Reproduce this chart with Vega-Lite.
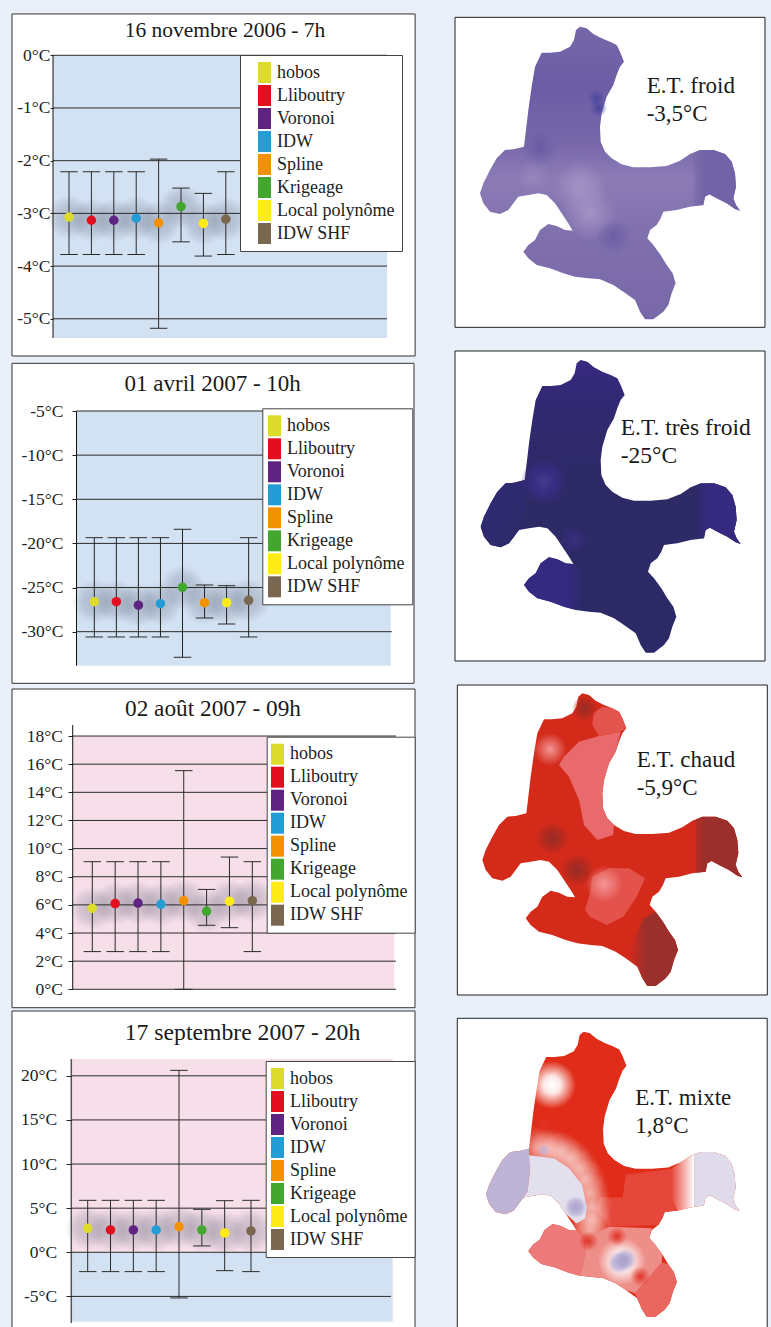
{
"$schema":"https://vega.github.io/schema/vega-lite/v6.json",
"background":"#E9F0FA","padding":0,"spacing":0,
"config":{
 "view":{"stroke":null},
 "font":"Liberation Serif",
 "point":{"opacity":1,"filled":true},
 "tick":{"opacity":1},
 "axisX":{"disable":true},
 "title":{"font":"Liberation Serif","fontSize":21.5,"fontWeight":"normal","color":"#1a1a1a","anchor":"middle","frame":"group","baseline":"alphabetic"},
 "axisY":{"domain":false,"grid":false,"ticks":true,"tickColor":"#222","tickSize":4,"labelFont":"Liberation Serif","labelFontSize":17.5,"labelColor":"#222","labelPadding":0,"labelBound":false,"labelFlush":false,"labelExpr":"datum.value+'°C'"},
 "legend":{"fillColor":"#fff","strokeColor":"#444","padding":7,"rowPadding":2,"symbolSize":441,"symbolStrokeWidth":0,"symbolType":"M-0.62,-1H0.62V1H-0.62Z","labelFont":"Liberation Serif","labelFontSize":18,"labelOffset":2,"labelColor":"#222"}
},
"datasets":{
 "outline":[{"type":"Feature","properties":{},"geometry":{"type":"Polygon","coordinates":[[[390,50],[410,55],[430,72],[455,85],[480,95],[500,105],[510,125],[522,155],[510,170],[500,195],[490,225],[470,260],[455,310],[450,350],[452,395],[465,425],[485,445],[515,463],[550,472],[600,472],[650,468],[690,452],[720,432],[750,420],[790,420],[825,432],[845,455],[855,490],[858,530],[850,565],[858,585],[870,602],[855,597],[830,580],[800,565],[778,553],[765,560],[760,585],[720,590],[680,600],[640,605],[632,625],[620,645],[600,660],[592,685],[610,705],[632,735],[650,765],[668,790],[677,820],[665,850],[655,885],[640,905],[610,928],[585,928],[570,905],[555,870],[520,845],[490,825],[450,808],[415,805],[375,800],[340,790],[300,775],[260,765],[235,745],[220,725],[235,705],[255,690],[270,660],[295,642],[320,648],[345,660],[368,662],[355,640],[335,610],[315,580],[290,555],[265,550],[235,555],[205,560],[190,580],[175,600],[150,612],[120,605],[100,580],[90,550],[100,520],[120,480],[140,445],[165,420],[190,418],[222,410],[228,360],[235,300],[245,230],[255,170],[275,128],[300,128],[330,125],[360,110],[372,90],[378,60],[390,50]]]}}],
 "leftLobe":[{"type":"Feature","properties":{},"geometry":{"type":"Polygon","coordinates":[[[205,560],[190,580],[175,600],[150,612],[120,605],[100,580],[90,550],[100,520],[120,480],[140,445],[165,420],[190,418],[222,410],[226,470],[218,540],[205,560]]]}}],
 "rightLobe":[{"type":"Feature","properties":{},"geometry":{"type":"Polygon","coordinates":[[[730,428],[750,420],[790,420],[825,432],[845,455],[855,490],[858,530],[850,565],[858,585],[870,602],[855,597],[830,580],[800,565],[778,553],[765,560],[760,585],[730,589],[730,428]]]}}],
 "bottomLeft":[{"type":"Feature","properties":{},"geometry":{"type":"Polygon","coordinates":[[[220,725],[235,705],[255,690],[270,660],[295,642],[320,648],[345,660],[368,662],[385,680],[400,720],[385,780],[375,800],[340,790],[300,775],[260,765],[235,745],[220,725]]]}}],
 "bottomRight":[{"type":"Feature","properties":{},"geometry":{"type":"Polygon","coordinates":[[[630,760],[650,765],[668,790],[677,820],[665,850],[655,885],[640,905],[610,928],[585,928],[570,905],[555,870],[548,855],[630,760]]]}}]
},
"hconcat":[
 {"spacing":0,"resolve":{"scale":{"color":"independent"}},"vconcat":[
  {"width":440,"height":360,"title":{"text":"16 novembre 2006 - 7h","offset":-41.7,"dx":5},
   "layer":[
    {"data":{"values":[{}]},"mark":{"type":"rect","fill":"#fff","stroke":"#333","strokeWidth":1},"encoding":{"x":{"datum":-1.545,"type":"quantitative","scale":{"domain":[-2.08,17.56],"nice":false,"zero":false}},"x2":{"datum":16.45},"y":{"datum":0.784,"type":"quantitative","title":null,"scale":{"domain":[-5.782,1.049],"nice":false,"zero":false},"axis":{"values":[0,-1,-2,-3,-4,-5],"tickCount":20,"offset":-53,"zindex":1,"tickSize":3,"labelOverlap":false}},"y2":{"datum":-5.706}}},
    {"data":{"values":[{}]},"mark":{"type":"rect","fill":"#D3E2F3"},"encoding":{"x":{"datum":0.286,"type":"quantitative"},"x2":{"datum":15.196},"y":{"datum":0,"type":"quantitative","title":null},"y2":{"datum":-5.364}}},
    {"data":{"values":[{"pos":1,"temp":-3.07,"low":-3.78,"high":-2.21,"method":"hobos"},{"pos":2,"temp":-3.13,"low":-3.78,"high":-2.21,"method":"Lliboutry"},{"pos":3,"temp":-3.13,"low":-3.78,"high":-2.21,"method":"Voronoi"},{"pos":4,"temp":-3.09,"low":-3.78,"high":-2.21,"method":"IDW"},{"pos":5,"temp":-3.18,"low":-5.18,"high":-1.97,"method":"Spline"},{"pos":6,"temp":-2.87,"low":-3.54,"high":-2.52,"method":"Krigeage"},{"pos":7,"temp":-3.19,"low":-3.81,"high":-2.62,"method":"Local polynôme"},{"pos":8,"temp":-3.11,"low":-3.78,"high":-2.21,"method":"IDW SHF"}]},
     "layer":[
      {"mark":{"type":"point","size":2000,"fill":{"gradient":"radial","x1":0.5,"y1":0.5,"r1":0,"x2":0.5,"y2":0.5,"r2":0.5,"stops":[{"offset":0,"color":"rgba(85,90,110,0.3)"},{"offset":0.55,"color":"rgba(85,90,110,0.2)"},{"offset":1,"color":"rgba(85,90,110,0)"}]}},"encoding":{"x":{"field":"pos","type":"quantitative"},"y":{"field":"temp","type":"quantitative","title":null}}},
      {"data":{"values":[{"t":0},{"t":-1},{"t":-2},{"t":-3},{"t":-4},{"t":-5}]},"mark":{"type":"rule","color":"#2a2a2a","strokeWidth":1},"encoding":{"x":{"datum":0.286,"type":"quantitative"},"x2":{"datum":15.196},"y":{"field":"t","type":"quantitative","title":null}}},
      {"data":{"values":[{}]},"mark":{"type":"rule","color":"#111","strokeWidth":1},"encoding":{"x":{"datum":0.286,"type":"quantitative"},"y":{"datum":0,"type":"quantitative","title":null},"y2":{"datum":-5.364}}},
      {"mark":{"type":"rule","color":"#2a2a2a","strokeWidth":1},"encoding":{"x":{"field":"pos","type":"quantitative"},"y":{"field":"low","type":"quantitative","title":null},"y2":{"field":"high"}}},
      {"mark":{"type":"tick","orient":"horizontal","size":17.5,"thickness":1,"color":"#2a2a2a"},"encoding":{"x":{"field":"pos","type":"quantitative"},"y":{"field":"low","type":"quantitative","title":null}}},
      {"mark":{"type":"tick","orient":"horizontal","size":17.5,"thickness":1,"color":"#2a2a2a"},"encoding":{"x":{"field":"pos","type":"quantitative"},"y":{"field":"high","type":"quantitative","title":null}}},
      {"mark":{"type":"point","size":90},"encoding":{"x":{"field":"pos","type":"quantitative"},"y":{"field":"temp","type":"quantitative","title":null},"color":{"field":"method","type":"nominal","scale":{"domain":["hobos","Lliboutry","Voronoi","IDW","Spline","Krigeage","Local polynôme","IDW SHF"],"range":["#DDDB2B","#E30F1F","#5F2382","#249DD6","#F39200","#43A62F","#FFEC17","#7A6750"]},"legend":{"title":null,"orient":"none","legendX":240,"legendY":55,"symbolOffset":7}}}}
     ]}
   ]},
  {"width":440,"height":326,"title":{"text":"01 avril 2007 - 10h","offset":-35.7,"dx":-7.3,"fontSize":23},
   "layer":[
    {"data":{"values":[{}]},"mark":{"type":"rect","fill":"#fff","stroke":"#333","strokeWidth":1},"encoding":{"x":{"datum":-2.732,"type":"quantitative","scale":{"domain":[-3.277,16.678],"nice":false,"zero":false}},"x2":{"datum":15.499},"y":{"datum":0.404,"type":"quantitative","title":null,"scale":{"domain":[-36.154,0.778],"nice":false,"zero":false},"axis":{"values":[-5,-10,-15,-20,-25,-30],"tickCount":20,"offset":-76.5,"zindex":1,"tickSize":4.5,"labelPadding":9,"labelOverlap":false}},"y2":{"datum":-35.85}}},
    {"data":{"values":[{}]},"mark":{"type":"rect","fill":"#D3E2F3"},"encoding":{"x":{"datum":0.193,"type":"quantitative"},"x2":{"datum":14.442},"y":{"datum":-5,"type":"quantitative","title":null},"y2":{"datum":-33.854}}},
    {"data":{"values":[{"pos":1,"temp":-26.6,"low":-30.6,"high":-19.35,"method":"hobos"},{"pos":2,"temp":-26.6,"low":-30.6,"high":-19.35,"method":"Lliboutry"},{"pos":3,"temp":-27.0,"low":-30.6,"high":-19.35,"method":"Voronoi"},{"pos":4,"temp":-26.83,"low":-30.6,"high":-19.35,"method":"IDW"},{"pos":5,"temp":-24.97,"low":-32.9,"high":-18.4,"method":"Krigeage"},{"pos":6,"temp":-26.71,"low":-28.45,"high":-24.71,"method":"Spline"},{"pos":7,"temp":-26.71,"low":-29.13,"high":-24.79,"method":"Local polynôme"},{"pos":8,"temp":-26.45,"low":-30.6,"high":-19.35,"method":"IDW SHF"}]},
     "layer":[
      {"mark":{"type":"point","size":2000,"fill":{"gradient":"radial","x1":0.5,"y1":0.5,"r1":0,"x2":0.5,"y2":0.5,"r2":0.5,"stops":[{"offset":0,"color":"rgba(85,90,110,0.3)"},{"offset":0.55,"color":"rgba(85,90,110,0.2)"},{"offset":1,"color":"rgba(85,90,110,0)"}]}},"encoding":{"x":{"field":"pos","type":"quantitative"},"y":{"field":"temp","type":"quantitative","title":null}}},
      {"data":{"values":[{"t":-5},{"t":-10},{"t":-15},{"t":-20},{"t":-25},{"t":-30}]},"mark":{"type":"rule","color":"#2a2a2a","strokeWidth":1},"encoding":{"x":{"datum":0.193,"type":"quantitative"},"x2":{"datum":14.488},"y":{"field":"t","type":"quantitative","title":null}}},
      {"data":{"values":[{}]},"mark":{"type":"rule","color":"#111","strokeWidth":1},"encoding":{"x":{"datum":0.193,"type":"quantitative"},"y":{"datum":-5,"type":"quantitative","title":null},"y2":{"datum":-33.854}}},
      {"mark":{"type":"rule","color":"#222","strokeWidth":1},"encoding":{"x":{"field":"pos","type":"quantitative"},"y":{"field":"low","type":"quantitative","title":null},"y2":{"field":"high"}}},
      {"mark":{"type":"tick","orient":"horizontal","size":17.5,"thickness":1,"color":"#2a2a2a"},"encoding":{"x":{"field":"pos","type":"quantitative"},"y":{"field":"low","type":"quantitative","title":null}}},
      {"mark":{"type":"tick","orient":"horizontal","size":17.5,"thickness":1,"color":"#2a2a2a"},"encoding":{"x":{"field":"pos","type":"quantitative"},"y":{"field":"high","type":"quantitative","title":null}}},
      {"mark":{"type":"point","size":90},"encoding":{"x":{"field":"pos","type":"quantitative"},"y":{"field":"temp","type":"quantitative","title":null},"color":{"field":"method","type":"nominal","scale":{"domain":["hobos","Lliboutry","Voronoi","IDW","Spline","Krigeage","Local polynôme","IDW SHF"],"range":["#DDDB2B","#E30F1F","#5F2382","#249DD6","#F39200","#43A62F","#FFEC17","#7A6750"]},"legend":{"title":null,"orient":"none","legendX":262.3,"legendY":48.3,"symbolOffset":-5.3}}}}
     ]}
   ]},
  {"width":440,"height":323,"title":{"text":"02 août 2007 - 09h","offset":-35.7,"dx":-7,"fontSize":23.3},
   "layer":[
    {"data":{"values":[{}]},"mark":{"type":"rect","fill":"#fff","stroke":"#333","strokeWidth":1},"encoding":{"x":{"datum":-2.513,"type":"quantitative","scale":{"domain":[-3.038,16.21],"nice":false,"zero":false}},"x2":{"datum":15.117},"y":{"datum":21.343,"type":"quantitative","title":null,"scale":{"domain":[-1.4,21.557],"nice":false,"zero":false},"axis":{"values":[18,16,14,12,10,8,6,4,2,0],"tickCount":20,"offset":-72.7,"tickSize":4.7,"labelPadding":5.7,"zindex":1,"labelOverlap":false}},"y2":{"datum":-1.308}}},
    {"data":{"values":[{}]},"mark":{"type":"rect","fill":"#F7DFEA"},"encoding":{"x":{"datum":0.143,"type":"quantitative"},"x2":{"datum":14.211},"y":{"datum":18,"type":"quantitative","title":null},"y2":{"datum":0}}},
    {"data":{"values":[{"pos":1,"temp":5.76,"low":2.68,"high":9.07,"method":"hobos"},{"pos":2,"temp":6.09,"low":2.68,"high":9.07,"method":"Lliboutry"},{"pos":3,"temp":6.13,"low":2.68,"high":9.07,"method":"Voronoi"},{"pos":4,"temp":6.04,"low":2.68,"high":9.07,"method":"IDW"},{"pos":5,"temp":6.3,"low":0,"high":15.54,"method":"Spline"},{"pos":6,"temp":5.54,"low":4.55,"high":7.1,"method":"Krigeage"},{"pos":7,"temp":6.25,"low":4.38,"high":9.4,"method":"Local polynôme"},{"pos":8,"temp":6.3,"low":2.68,"high":9.07,"method":"IDW SHF"}]},
     "layer":[
      {"mark":{"type":"point","size":2000,"fill":{"gradient":"radial","x1":0.5,"y1":0.5,"r1":0,"x2":0.5,"y2":0.5,"r2":0.5,"stops":[{"offset":0,"color":"rgba(85,90,110,0.3)"},{"offset":0.55,"color":"rgba(85,90,110,0.2)"},{"offset":1,"color":"rgba(85,90,110,0)"}]}},"encoding":{"x":{"field":"pos","type":"quantitative"},"y":{"field":"temp","type":"quantitative","title":null}}},
      {"data":{"values":[{"t":18},{"t":16},{"t":14},{"t":12},{"t":10},{"t":8},{"t":6},{"t":4},{"t":2},{"t":0}]},"mark":{"type":"rule","color":"#2a2a2a","strokeWidth":1},"encoding":{"x":{"datum":0.143,"type":"quantitative"},"x2":{"datum":14.285},"y":{"field":"t","type":"quantitative","title":null}}},
      {"data":{"values":[{}]},"mark":{"type":"rule","color":"#111","strokeWidth":1},"encoding":{"x":{"datum":0.143,"type":"quantitative"},"y":{"datum":18.785,"type":"quantitative","title":null},"y2":{"datum":0}}},
      {"mark":{"type":"rule","color":"#2a2a2a","strokeWidth":1},"encoding":{"x":{"field":"pos","type":"quantitative"},"y":{"field":"low","type":"quantitative","title":null},"y2":{"field":"high"}}},
      {"mark":{"type":"tick","orient":"horizontal","size":17.5,"thickness":1,"color":"#2a2a2a"},"encoding":{"x":{"field":"pos","type":"quantitative"},"y":{"field":"low","type":"quantitative","title":null}}},
      {"mark":{"type":"tick","orient":"horizontal","size":17.5,"thickness":1,"color":"#2a2a2a"},"encoding":{"x":{"field":"pos","type":"quantitative"},"y":{"field":"high","type":"quantitative","title":null}}},
      {"mark":{"type":"point","size":90},"encoding":{"x":{"field":"pos","type":"quantitative"},"y":{"field":"temp","type":"quantitative","title":null},"color":{"field":"method","type":"nominal","scale":{"domain":["hobos","Lliboutry","Voronoi","IDW","Spline","Krigeage","Local polynôme","IDW SHF"],"range":["#DDDB2B","#E30F1F","#5F2382","#249DD6","#F39200","#43A62F","#FFEC17","#7A6750"]},"legend":{"title":null,"orient":"none","legendX":266.7,"legendY":50.7,"symbolOffset":-6.7}}}}
     ]}
   ]},
  {"width":440,"height":318,"title":{"text":"17 septembre 2007 - 20h","offset":-36,"dx":22.5,"fontSize":23.7},
   "layer":[
    {"data":{"values":[{}]},"mark":{"type":"rect","fill":"#fff"},"encoding":{"x":{"datum":-2.316,"type":"quantitative","scale":{"domain":[-2.841,16.432],"nice":false,"zero":false}},"x2":{"datum":15.337},"y":{"datum":27.346,"type":"quantitative","title":null,"scale":{"domain":[-8.466,27.572],"nice":false,"zero":false},"axis":{"values":[20,15,10,5,0,-5],"tickCount":20,"offset":-71.3,"tickSize":5.3,"labelPadding":9.3,"zindex":1,"labelOverlap":false}},"y2":{"datum":-8.466}}},
    {"data":{"values":[{}]},"mark":{"type":"rule","color":"#333","strokeWidth":1},"encoding":{"x":{"datum":-2.316,"type":"quantitative"},"x2":{"datum":15.337},"y":{"datum":27.346,"type":"quantitative","title":null}}},
    {"data":{"values":[{}]},"mark":{"type":"rule","color":"#333","strokeWidth":1},"encoding":{"x":{"datum":-2.316,"type":"quantitative"},"y":{"datum":27.346,"type":"quantitative","title":null},"y2":{"datum":-8.466}}},
    {"data":{"values":[{}]},"mark":{"type":"rule","color":"#333","strokeWidth":1},"encoding":{"x":{"datum":15.337,"type":"quantitative"},"y":{"datum":27.346,"type":"quantitative","title":null},"y2":{"datum":-8.466}}},
    {"data":{"values":[{}]},"mark":{"type":"rect","fill":"#F7DFEA"},"encoding":{"x":{"datum":0.282,"type":"quantitative"},"x2":{"datum":14.36},"y":{"datum":21.906,"type":"quantitative","title":null},"y2":{"datum":0}}},
    {"data":{"values":[{}]},"mark":{"type":"rect","fill":"#D3E2F3"},"encoding":{"x":{"datum":0.282,"type":"quantitative"},"x2":{"datum":14.36},"y":{"datum":0,"type":"quantitative","title":null},"y2":{"datum":-7.865}}},
    {"data":{"values":[{"pos":1,"temp":2.72,"low":-2.19,"high":5.89,"method":"hobos"},{"pos":2,"temp":2.53,"low":-2.19,"high":5.89,"method":"Lliboutry"},{"pos":3,"temp":2.53,"low":-2.19,"high":5.89,"method":"Voronoi"},{"pos":4,"temp":2.53,"low":-2.19,"high":5.89,"method":"IDW"},{"pos":5,"temp":2.91,"low":-5.17,"high":20.62,"method":"Spline"},{"pos":6,"temp":2.53,"low":0.72,"high":4.87,"method":"Krigeage"},{"pos":7,"temp":2.19,"low":-2.08,"high":5.85,"method":"Local polynôme"},{"pos":8.153,"temp":2.42,"low":-2.19,"high":5.89,"method":"IDW SHF"}]},
     "layer":[
      {"mark":{"type":"point","size":2000,"fill":{"gradient":"radial","x1":0.5,"y1":0.5,"r1":0,"x2":0.5,"y2":0.5,"r2":0.5,"stops":[{"offset":0,"color":"rgba(85,90,110,0.3)"},{"offset":0.55,"color":"rgba(85,90,110,0.2)"},{"offset":1,"color":"rgba(85,90,110,0)"}]}},"encoding":{"x":{"field":"pos","type":"quantitative"},"y":{"field":"temp","type":"quantitative","title":null}}},
      {"data":{"values":[{"t":20},{"t":15},{"t":10},{"t":5},{"t":0},{"t":-5}]},"mark":{"type":"rule","color":"#2a2a2a","strokeWidth":1},"encoding":{"x":{"datum":0.282,"type":"quantitative"},"x2":{"datum":14.285},"y":{"field":"t","type":"quantitative","title":null}}},
      {"data":{"values":[{}]},"mark":{"type":"rule","color":"#555","strokeWidth":1.5},"encoding":{"x":{"datum":0.282,"type":"quantitative"},"y":{"datum":21.906,"type":"quantitative","title":null},"y2":{"datum":-8.01}}},
      {"mark":{"type":"rule","color":"#2a2a2a","strokeWidth":1},"encoding":{"x":{"field":"pos","type":"quantitative"},"y":{"field":"low","type":"quantitative","title":null},"y2":{"field":"high"}}},
      {"mark":{"type":"tick","orient":"horizontal","size":17.5,"thickness":1,"color":"#2a2a2a"},"encoding":{"x":{"field":"pos","type":"quantitative"},"y":{"field":"low","type":"quantitative","title":null}}},
      {"mark":{"type":"tick","orient":"horizontal","size":17.5,"thickness":1,"color":"#2a2a2a"},"encoding":{"x":{"field":"pos","type":"quantitative"},"y":{"field":"high","type":"quantitative","title":null}}},
      {"mark":{"type":"point","size":90},"encoding":{"x":{"field":"pos","type":"quantitative"},"y":{"field":"temp","type":"quantitative","title":null},"color":{"field":"method","type":"nominal","scale":{"domain":["hobos","Lliboutry","Voronoi","IDW","Spline","Krigeage","Local polynôme","IDW SHF"],"range":["#DDDB2B","#E30F1F","#5F2382","#249DD6","#F39200","#43A62F","#FFEC17","#7A6750"]},"legend":{"title":null,"orient":"none","legendX":265.7,"legendY":52,"symbolOffset":-5.7}}}}
     ]}
   ]}
 ]},
 {"spacing":0,"vconcat":[
  {"width":331,"height":339,"projection":{"type":"identity","scale":0.33333,"translate":[10,10],"tilt":1},
   "layer":[
    {"data":{"values":[{"type":"Feature","properties":{},"geometry":{"type":"Polygon","coordinates":[[[15,22],[945,22],[945,952],[15,952],[15,22]]]}}]},"mark":{"type":"geoshape","fill":"#fff","stroke":"#222","strokeWidth":1},"encoding":{}},
    {"data":{"name":"outline"},"mark":{"type":"geoshape","strokeWidth":0,"fill":{"gradient":"linear","x1":0,"y1":0,"x2":0,"y2":1,"stops":[{"offset":0,"color":"#7667A9"},{"offset":0.2,"color":"#6C5CA5"},{"offset":0.38,"color":"#7565A9"},{"offset":0.52,"color":"#8B7BB5"},{"offset":0.7,"color":"#8070AE"},{"offset":1,"color":"#7868A8"}]}},"encoding":{}},
    {"data":{"name":"rightLobe"},"mark":{"type":"geoshape","strokeWidth":0,"fill":{"gradient":"linear","x1":0,"y1":0,"x2":1,"y2":0,"stops":[{"offset":0,"color":"rgba(114,98,167,0.3)"},{"offset":0.25,"color":"rgba(114,98,167,1)"},{"offset":1,"color":"rgba(114,98,167,1)"}]}},"encoding":{}},
    {"data":{"values":[{"x":390,"y":530},{"x":420,"y":610}]},"mark":{"type":"point","size":3000,"fill":{"gradient":"radial","x1":0.5,"y1":0.5,"r1":0,"x2":0.5,"y2":0.5,"r2":0.5,"stops":[{"offset":0,"color":"rgba(168,152,200,0.85)"},{"offset":1,"color":"rgba(168,152,200,0)"}]}},"encoding":{"longitude":{"field":"x","type":"quantitative"},"latitude":{"field":"y","type":"quantitative"}}},
    {"data":{"values":[{"x":250,"y":500}]},"mark":{"type":"point","size":1200,"fill":{"gradient":"radial","x1":0.5,"y1":0.5,"r1":0,"x2":0.5,"y2":0.5,"r2":0.5,"stops":[{"offset":0,"color":"rgba(168,152,200,0.4)"},{"offset":1,"color":"rgba(168,152,200,0)"}]}},"encoding":{"longitude":{"field":"x","type":"quantitative"},"latitude":{"field":"y","type":"quantitative"}}},
    {"data":{"values":[{"x":270,"y":415},{"x":490,"y":680}]},"mark":{"type":"point","size":1300,"fill":{"gradient":"radial","x1":0.5,"y1":0.5,"r1":0,"x2":0.5,"y2":0.5,"r2":0.5,"stops":[{"offset":0,"color":"rgba(96,80,158,0.6)"},{"offset":1,"color":"rgba(96,80,158,0)"}]}},"encoding":{"longitude":{"field":"x","type":"quantitative"},"latitude":{"field":"y","type":"quantitative"}}},
    {"data":{"values":[{"x":446,"y":295},{"x":440,"y":265}]},"mark":{"type":"point","size":300,"fill":{"gradient":"radial","x1":0.5,"y1":0.5,"r1":0,"x2":0.5,"y2":0.5,"r2":0.5,"stops":[{"offset":0,"color":"rgba(66,66,155,0.85)"},{"offset":1,"color":"rgba(66,66,155,0)"}]}},"encoding":{"longitude":{"field":"x","type":"quantitative"},"latitude":{"field":"y","type":"quantitative"}}},
    {"mark":{"type":"text","text":["E.T. froid","-3,5°C"],"align":"left","baseline":"alphabetic","font":"Liberation Serif","fontSize":23,"lineHeight":28,"color":"#1a1a1a"},"encoding":{"longitude":{"datum":590},"latitude":{"datum":250}},"data":{"values":[{}]}}
   ]},
  {"width":331,"height":334,"projection":{"type":"identity","scale":0.33333,"translate":[10.67,4.33],"tilt":2},
   "layer":[
    {"data":{"values":[{"type":"Feature","properties":{},"geometry":{"type":"Polygon","coordinates":[[[13,23],[943,23],[943,953],[13,953],[13,23]]]}}]},"mark":{"type":"geoshape","fill":"#fff","stroke":"#222","strokeWidth":1},"encoding":{}},
    {"data":{"name":"outline"},"mark":{"type":"geoshape","strokeWidth":0,"fill":{"gradient":"linear","x1":0,"y1":0,"x2":0,"y2":1,"stops":[{"offset":0,"color":"#36297F"},{"offset":0.2,"color":"#30296F"},{"offset":0.45,"color":"#2D2A66"},{"offset":1,"color":"#2C2A66"}]}},"encoding":{}},
    {"data":{"name":"rightLobe"},"mark":{"type":"geoshape","strokeWidth":0,"fill":{"gradient":"linear","x1":0,"y1":0,"x2":1,"y2":0,"stops":[{"offset":0,"color":"rgba(53,42,128,0)"},{"offset":0.35,"color":"rgba(53,42,128,1)"},{"offset":1,"color":"rgba(53,42,128,1)"}]}},"encoding":{}},
    {"data":{"name":"bottomLeft"},"mark":{"type":"geoshape","strokeWidth":0,"fill":{"gradient":"linear","x1":0,"y1":0,"x2":1,"y2":0,"stops":[{"offset":0,"color":"rgba(53,42,133,0.9)"},{"offset":0.7,"color":"rgba(53,42,133,0.9)"},{"offset":1,"color":"rgba(53,42,133,0)"}]}},"encoding":{}},
    {"data":{"name":"leftLobe"},"mark":{"type":"geoshape","strokeWidth":0,"fill":{"gradient":"linear","x1":0,"y1":0,"x2":1,"y2":1,"stops":[{"offset":0,"color":"#2F2A75"},{"offset":1,"color":"#2D2A68"}]}},"encoding":{}},
    {"data":{"values":[{"x":280,"y":415}]},"mark":{"type":"point","size":2200,"fill":{"gradient":"radial","x1":0.5,"y1":0.5,"r1":0,"x2":0.5,"y2":0.5,"r2":0.5,"stops":[{"offset":0,"color":"rgba(70,60,145,1)"},{"offset":0.5,"color":"rgba(58,44,135,0.8)"},{"offset":1,"color":"rgba(58,44,135,0)"}]}},"encoding":{"longitude":{"field":"x","type":"quantitative"},"latitude":{"field":"y","type":"quantitative"}}},
    {"data":{"values":[{"x":370,"y":590}]},"mark":{"type":"point","size":900,"opacity":0.5,"fill":{"gradient":"radial","x1":0.5,"y1":0.5,"r1":0,"x2":0.5,"y2":0.5,"r2":0.5,"stops":[{"offset":0,"color":"rgba(70,60,145,1)"},{"offset":0.5,"color":"rgba(58,44,135,0.8)"},{"offset":1,"color":"rgba(58,44,135,0)"}]}},"encoding":{"longitude":{"field":"x","type":"quantitative"},"latitude":{"field":"y","type":"quantitative"}}},
    {"mark":{"type":"text","text":["E.T. très froid","-25°C"],"align":"left","baseline":"alphabetic","font":"Liberation Serif","fontSize":23.5,"lineHeight":28,"color":"#1a1a1a"},"encoding":{"longitude":{"datum":510},"latitude":{"datum":275}},"data":{"values":[{}]}}
   ]},
  {"width":331,"height":334,"projection":{"type":"identity","scale":0.33333,"translate":[12.33,3.67],"tilt":3},
   "layer":[
    {"data":{"values":[{"type":"Feature","properties":{},"geometry":{"type":"Polygon","coordinates":[[[15,25],[945,25],[945,955],[15,955],[15,25]]]}}]},"mark":{"type":"geoshape","fill":"#fff","stroke":"#222","strokeWidth":1},"encoding":{}},
    {"data":{"name":"outline"},"mark":{"type":"geoshape","strokeWidth":0,"fill":"#D42A1A"},"encoding":{}},
    {"data":{"values":[{"type":"Feature","properties":{},"geometry":{"type":"Polygon","coordinates":[[[335,240],[380,195],[440,178],[505,165],[490,225],[470,260],[455,310],[450,350],[452,395],[465,425],[485,445],[482,475],[435,490],[395,445],[380,370],[350,300],[320,265],[335,240]]]}}]},"mark":{"type":"geoshape","strokeWidth":0,"fill":"#E96A6C"},"encoding":{}},
    {"data":{"values":[{"type":"Feature","properties":{},"geometry":{"type":"Polygon","coordinates":[[[423,110],[450,90],[480,95],[500,105],[510,125],[522,155],[505,165],[440,178],[420,145],[423,110]]]}}]},"mark":{"type":"geoshape","strokeWidth":0,"fill":"#E2544C"},"encoding":{}},
    {"data":{"name":"rightLobe"},"mark":{"type":"geoshape","strokeWidth":0,"fill":{"gradient":"linear","x1":0,"y1":0,"x2":1,"y2":0,"stops":[{"offset":0,"color":"rgba(154,47,44,0.5)"},{"offset":0.2,"color":"rgba(154,47,44,1)"},{"offset":1,"color":"rgba(154,47,44,1)"}]}},"encoding":{}},
    {"data":{"values":[{"type":"Feature","properties":{},"geometry":{"type":"Polygon","coordinates":[[[600,710],[610,705],[632,735],[650,765],[668,790],[677,820],[665,850],[655,885],[640,905],[610,928],[585,928],[570,905],[555,870],[530,850],[545,790],[570,730],[600,710]]]}}]},"mark":{"type":"geoshape","strokeWidth":0,"fill":{"gradient":"linear","x1":0,"y1":0,"x2":1,"y2":0,"stops":[{"offset":0,"color":"rgba(154,47,44,0)"},{"offset":0.35,"color":"rgba(154,47,44,1)"},{"offset":1,"color":"rgba(154,47,44,1)"}]}},"encoding":{}},
    {"data":{"values":[{"type":"Feature","properties":{},"geometry":{"type":"Polygon","coordinates":[[[420,600],[470,575],[530,575],[578,605],[553,660],[513,720],[463,745],[413,720],[398,700],[413,650],[420,600]]]}}]},"mark":{"type":"geoshape","strokeWidth":0,"fill":"#E4524C"},"encoding":{}},
    {"data":{"values":[{"x":455,"y":622}]},"mark":{"type":"point","size":1400,"fill":{"gradient":"radial","x1":0.5,"y1":0.5,"r1":0,"x2":0.5,"y2":0.5,"r2":0.5,"stops":[{"offset":0,"color":"rgba(243,150,150,1)"},{"offset":1,"color":"rgba(243,150,150,0)"}]}},"encoding":{"longitude":{"field":"x","type":"quantitative"},"latitude":{"field":"y","type":"quantitative"}}},
    {"data":{"values":[{"x":293,"y":218}]},"mark":{"type":"point","size":1100,"fill":{"gradient":"radial","x1":0.5,"y1":0.5,"r1":0,"x2":0.5,"y2":0.5,"r2":0.5,"stops":[{"offset":0,"color":"rgba(243,150,150,1)"},{"offset":1,"color":"rgba(243,150,150,0)"}]}},"encoding":{"longitude":{"field":"x","type":"quantitative"},"latitude":{"field":"y","type":"quantitative"}}},
    {"data":{"values":[{"x":375,"y":580},{"x":300,"y":485}]},"mark":{"type":"point","size":1100,"fill":{"gradient":"radial","x1":0.5,"y1":0.5,"r1":0,"x2":0.5,"y2":0.5,"r2":0.5,"stops":[{"offset":0,"color":"rgba(150,45,40,1)"},{"offset":0.5,"color":"rgba(165,42,32,0.75)"},{"offset":1,"color":"rgba(165,42,32,0)"}]}},"encoding":{"longitude":{"field":"x","type":"quantitative"},"latitude":{"field":"y","type":"quantitative"}}},
    {"data":{"values":[{"x":398,"y":95}]},"mark":{"type":"point","size":650,"fill":{"gradient":"radial","x1":0.5,"y1":0.5,"r1":0,"x2":0.5,"y2":0.5,"r2":0.5,"stops":[{"offset":0,"color":"rgba(150,45,40,1)"},{"offset":0.5,"color":"rgba(165,42,32,0.75)"},{"offset":1,"color":"rgba(165,42,32,0)"}]}},"encoding":{"longitude":{"field":"x","type":"quantitative"},"latitude":{"field":"y","type":"quantitative"}}},
    {"mark":{"type":"text","text":["E.T. chaud","-5,9°C"],"align":"left","baseline":"alphabetic","font":"Liberation Serif","fontSize":23,"lineHeight":28,"color":"#1a1a1a"},"encoding":{"longitude":{"datum":553},"latitude":{"datum":272}},"data":{"values":[{}]}}
   ]},
  {"width":331,"height":320,"projection":{"type":"identity","scale":0.325,"translate":[16.8,8.4],"tilt":4},
   "layer":[
    {"data":{"values":[{"type":"Feature","properties":{},"geometry":{"type":"Polygon","coordinates":[[[1.5,8.9],[955,8.9],[955,958.8],[1.5,958.8],[1.5,8.9]]]}}]},"mark":{"type":"geoshape","fill":"#fff","strokeWidth":0},"encoding":{}},
    {"data":{"values":[{"type":"Feature","properties":{},"geometry":{"type":"LineString","coordinates":[[1.5,958.8],[1.5,8.9],[955,8.9],[955,958.8]]}}]},"mark":{"type":"geoshape","filled":false,"stroke":"#222","strokeWidth":1},"encoding":{}},
    {"data":{"name":"outline"},"mark":{"type":"geoshape","strokeWidth":0,"fill":"#E02C18"},"encoding":{}},
    {"data":{"values":[{"type":"Feature","properties":{},"geometry":{"type":"Polygon","coordinates":[[[430,600],[440,560],[510,560],[520,490],[660,472],[720,432],[730,428],[730,589],[680,600],[640,605],[632,625],[620,645],[470,650],[430,600]]]}}]},"mark":{"type":"geoshape","strokeWidth":0,"fill":"#E5473A"},"encoding":{}},
    {"data":{"values":[{"x":250,"y":405},{"x":285,"y":410},{"x":320,"y":420},{"x":350,"y":440},{"x":375,"y":470},{"x":395,"y":505},{"x":408,"y":545},{"x":415,"y":590},{"x":415,"y":630},{"x":408,"y":665}]},"mark":{"type":"point","size":1700,"fill":{"gradient":"radial","x1":0.5,"y1":0.5,"r1":0,"x2":0.5,"y2":0.5,"r2":0.5,"stops":[{"offset":0,"color":"rgba(255,255,255,0.5)"},{"offset":1,"color":"rgba(255,255,255,0)"}]}},"encoding":{"longitude":{"field":"x","type":"quantitative"},"latitude":{"field":"y","type":"quantitative"}}},
    {"data":{"name":"leftLobe"},"mark":{"type":"geoshape","strokeWidth":0,"fill":"#BDB4D6"},"encoding":{}},
    {"data":{"values":[{"type":"Feature","properties":{},"geometry":{"type":"Polygon","coordinates":[[[222,430],[300,440],[345,470],[385,520],[400,590],[395,625],[368,640],[335,610],[315,580],[290,555],[265,550],[235,555],[205,560],[218,540],[226,470],[222,430]]]}}]},"mark":{"type":"geoshape","strokeWidth":0,"fill":"#E3E0EE"},"encoding":{}},
    {"data":{"values":[{"type":"Feature","properties":{},"geometry":{"type":"Polygon","coordinates":[[[660,470],[690,452],[720,432],[730,428],[730,589],[680,600],[660,560],[660,470]]]}}]},"mark":{"type":"geoshape","strokeWidth":0,"fill":{"gradient":"linear","x1":0,"y1":0,"x2":1,"y2":0,"stops":[{"offset":0,"color":"rgba(255,255,255,0)"},{"offset":1,"color":"rgba(255,255,255,1)"}]}},"encoding":{}},
    {"data":{"name":"rightLobe"},"mark":{"type":"geoshape","strokeWidth":0,"fill":"#E0DBEA"},"encoding":{}},
    {"data":{"values":[{"type":"Feature","properties":{},"geometry":{"type":"Polygon","coordinates":[[[400,680],[470,650],[600,655],[592,685],[610,705],[632,735],[630,770],[548,855],[520,845],[490,825],[450,808],[415,805],[375,800],[385,780],[400,680]]]}}]},"mark":{"type":"geoshape","strokeWidth":0,"fill":"#EE8E88"},"encoding":{}},
    {"data":{"name":"bottomLeft"},"mark":{"type":"geoshape","strokeWidth":0,"fill":"#EC7A7A"},"encoding":{}},
    {"data":{"name":"bottomRight"},"mark":{"type":"geoshape","strokeWidth":0,"fill":"#E9675F"},"encoding":{}},
    {"data":{"values":[{"x":293,"y":214},{"x":508,"y":757}]},"mark":{"type":"point","size":2300,"fill":{"gradient":"radial","x1":0.5,"y1":0.5,"r1":0,"x2":0.5,"y2":0.5,"r2":0.5,"stops":[{"offset":0,"color":"rgba(255,255,255,1)"},{"offset":0.35,"color":"rgba(255,255,255,0.9)"},{"offset":1,"color":"rgba(255,255,255,0)"}]}},"encoding":{"longitude":{"field":"x","type":"quantitative"},"latitude":{"field":"y","type":"quantitative"}}},
    {"data":{"values":[{"x":500,"y":760},{"x":518,"y":752},{"x":366,"y":590}]},"mark":{"type":"point","size":520,"fill":{"gradient":"radial","x1":0.5,"y1":0.5,"r1":0,"x2":0.5,"y2":0.5,"r2":0.5,"stops":[{"offset":0,"color":"rgba(165,155,202,0.9)"},{"offset":0.6,"color":"rgba(175,165,208,0.7)"},{"offset":1,"color":"rgba(190,180,220,0)"}]}},"encoding":{"longitude":{"field":"x","type":"quantitative"},"latitude":{"field":"y","type":"quantitative"}}},
    {"data":{"values":[{"x":268,"y":415}]},"mark":{"type":"point","size":170,"fill":{"gradient":"radial","x1":0.5,"y1":0.5,"r1":0,"x2":0.5,"y2":0.5,"r2":0.5,"stops":[{"offset":0,"color":"rgba(190,180,220,1)"},{"offset":1,"color":"rgba(190,180,220,0)"}]}},"encoding":{"longitude":{"field":"x","type":"quantitative"},"latitude":{"field":"y","type":"quantitative"}}},
    {"data":{"values":[{"x":272,"y":337},{"x":493,"y":680},{"x":565,"y":803},{"x":405,"y":695}]},"mark":{"type":"point","size":400,"fill":{"gradient":"radial","x1":0.5,"y1":0.5,"r1":0,"x2":0.5,"y2":0.5,"r2":0.5,"stops":[{"offset":0,"color":"rgba(224,50,36,1)"},{"offset":1,"color":"rgba(224,50,36,0)"}]}},"encoding":{"longitude":{"field":"x","type":"quantitative"},"latitude":{"field":"y","type":"quantitative"}}},
    {"mark":{"type":"text","text":["E.T. mixte","1,8°C"],"align":"left","baseline":"alphabetic","font":"Liberation Serif","fontSize":23,"lineHeight":28,"color":"#1a1a1a"},"encoding":{"longitude":{"datum":549},"latitude":{"datum":276}},"data":{"values":[{}]}}
   ]}
 ]}
]}
